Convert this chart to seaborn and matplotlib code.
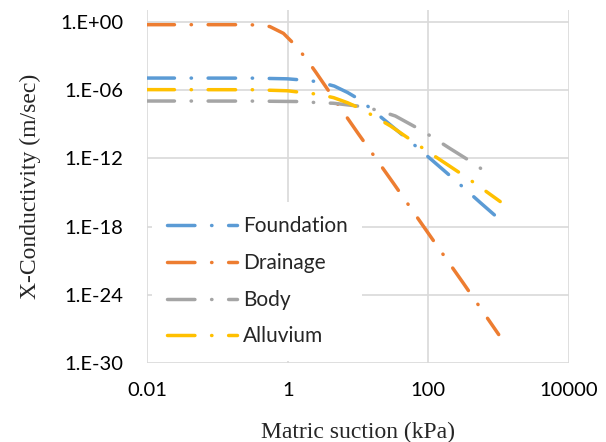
import numpy as np
import pandas as pd
import matplotlib
matplotlib.use("Agg")
import matplotlib.pyplot as plt
import seaborn as sns


# values (suction in kPa, conductivity in m/sec)
drainage_x = [0.01, 0.25, 0.45, 0.56, 0.87, 1.26, 1.82, 2.5, 4.3, 10, 32, 117, 316, 1000]
drainage_k = [5.8e-1, 5.8e-1, 5.2e-1, 3.9e-1, 1.0e-1, 1.0e-2, 6.3e-4, 4.0e-5, 3.0e-7,
              1.6e-10, 6.3e-15, 6.3e-20, 1.0e-23, 3.2e-28]

foundation_x = [0.01, 0.32, 1.0, 1.58, 2.7, 4.6, 7.1, 10.7, 25.7, 55, 115, 245, 550, 1000]
foundation_k = [1.17e-5, 1.15e-5, 1.0e-5, 7.9e-6, 5.6e-6, 2.3e-6, 6.3e-7, 1.4e-7, 1.6e-9,
                3.2e-11, 6.3e-13, 1.1e-14, 1.26e-16, 5.0e-18]

body_x = [0.01, 0.32, 1.58, 2.7, 4.5, 12, 20.4, 33.9, 81, 126, 200, 457, 740]
body_k = [1.12e-7, 1.1e-7, 1.0e-7, 7.9e-8, 7.1e-8, 3.5e-8, 1.5e-8, 5.4e-9, 2.8e-10,
          5.0e-11, 7.9e-12, 3.2e-13, 3.5e-14]

alluvium_x = [0.01, 0.32, 1.0, 1.58, 2.7, 4.5, 7.1, 11.2, 29, 98, 355, 1050]
alluvium_k = [1.12e-6, 1.1e-6, 8.9e-7, 6.3e-7, 4.4e-7, 2.2e-7, 7.9e-8, 2.2e-8, 7.1e-10,
              4.0e-12, 2.0e-14, 1.6e-16]

soils = ["Foundation", "Drainage", "Body", "Alluvium"]
colors = ["#5B9BD5", "#ED7D31", "#A5A5A5", "#FFC000"]

x_ticks = [0.01, 1, 100, 10000]
x_labels = ["0.01", "1", "100", "10000"]
y_ticks = [1e0, 1e-6, 1e-12, 1e-18, 1e-24, 1e-30]
y_labels = ["1.E+00", "1.E-06", "1.E-12", "1.E-18", "1.E-24", "1.E-30"]

frames = []
for name, xs, ks in [("Foundation", foundation_x, foundation_k),
                     ("Drainage", drainage_x, drainage_k),
                     ("Body", body_x, body_k),
                     ("Alluvium", alluvium_x, alluvium_k)]:
    frames.append(pd.DataFrame({"suction": xs, "k": ks, "soil": name}))
df = pd.concat(frames, ignore_index=True)

sns.set_style("white")
plt.rcParams["font.family"] = ["Lato", "DejaVu Sans"]

fig = plt.figure(figsize=(6.06, 4.42), dpi=100)
ax = fig.add_axes([0.2426, 0.1787, 0.6964, 0.7987])

# long dash - dot pattern (in linewidth units)
dash = (7.9, 4.8, 0.1, 4.8)
sns.lineplot(df, x="suction", y="k", hue="soil", hue_order=soils,
             palette=colors, style="soil", style_order=soils,
             dashes={s: dash for s in soils}, estimator=None, sort=False,
             linewidth=2.5, dash_capstyle="round", legend=False, ax=ax)

ax.set_xscale("log")
ax.set_yscale("log")
ax.set_xlim(0.01, 10000)
ax.set_ylim(1e-30, 10 ** 1.056)
ax.set_xticks(x_ticks)
ax.set_xticklabels(x_labels)
ax.set_yticks(y_ticks)
ax.set_yticklabels(y_labels)
ax.minorticks_off()
ax.tick_params(axis="both", length=0, labelsize=14.5, colors="black")
ax.tick_params(axis="x", pad=14)
ax.tick_params(axis="y", pad=17)

ax.grid(True, color="#D9D9D9", linewidth=1.2)
ax.set_axisbelow(True)
for sp in ax.spines.values():
    sp.set_visible(False)

ax.set_xlabel("Matric suction (kPa)", family="Liberation Serif", fontsize=17, labelpad=16)
ax.set_ylabel("X-Conductivity (m/sec)", family="Liberation Serif", fontsize=17, labelpad=14)

leg = ax.legend(ax.get_lines()[:4], soils, loc="center left",
                bbox_to_anchor=(152 / 606, 1 - 281.5 / 442), bbox_transform=fig.transFigure,
                borderaxespad=0, frameon=True, facecolor="white", edgecolor="none",
                framealpha=1, fontsize=15, handlelength=3.37, handletextpad=0.3,
                labelspacing=0.8, borderpad=0.7, fancybox=False)

plt.savefig("out.png", dpi=100)
plt.close()
